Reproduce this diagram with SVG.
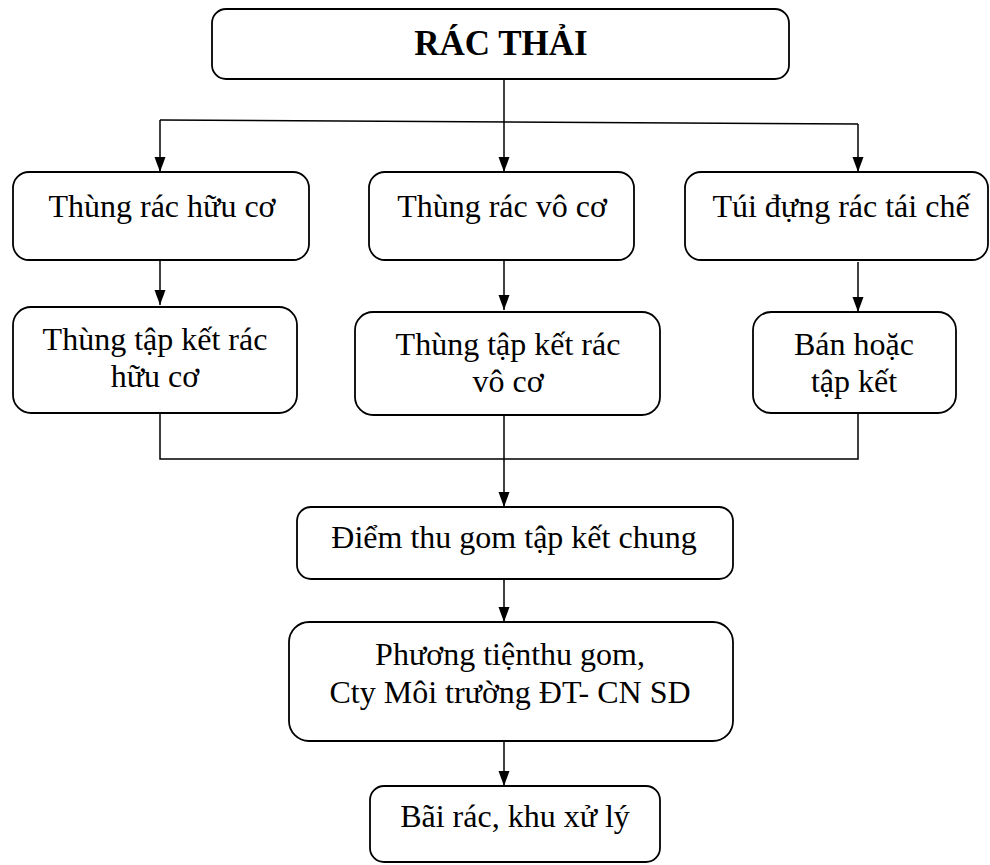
<svg xmlns="http://www.w3.org/2000/svg" width="990" height="865" viewBox="0 0 990 865">
<style>
.box{fill:#fff;stroke:#000;stroke-width:1.8}
.ln{fill:none;stroke:#000;stroke-width:1.5}
.t{font-family:"Liberation Serif","Times New Roman",serif;font-size:32px;fill:#000;text-anchor:middle}
.b{font-weight:bold;font-size:35px}
</style>
<defs>
<marker id="ah" markerUnits="userSpaceOnUse" markerWidth="12" markerHeight="16" refX="6" refY="15" orient="0" viewBox="0 0 12 16">
<path d="M0.5,0 L11.5,0 L6,15 Z" fill="#000"/>
</marker>
</defs>
<rect width="990" height="865" fill="#fff"/>
<g id="connectors">
<line class="ln" x1="504" y1="80" x2="504" y2="121"/>
<line class="ln" x1="160" y1="120" x2="858" y2="124"/>
<line class="ln" x1="160" y1="120" x2="160" y2="172" marker-end="url(#ah)"/>
<line class="ln" x1="504" y1="121" x2="504" y2="172" marker-end="url(#ah)"/>
<line class="ln" x1="858" y1="124" x2="858" y2="172" marker-end="url(#ah)"/>
<line class="ln" x1="160" y1="260" x2="160" y2="305" marker-end="url(#ah)"/>
<line class="ln" x1="504" y1="260" x2="504" y2="310" marker-end="url(#ah)"/>
<line class="ln" x1="858" y1="262" x2="858" y2="312" marker-end="url(#ah)"/>
<polyline class="ln" points="160,413 160,459 858,459 858,413"/>
<line class="ln" x1="504" y1="415" x2="504" y2="507" marker-end="url(#ah)"/>
<line class="ln" x1="504" y1="579" x2="504" y2="622" marker-end="url(#ah)"/>
<line class="ln" x1="504" y1="741" x2="504" y2="786" marker-end="url(#ah)"/>
</g>
<g id="n-rac-thai">
<rect class="box" x="212" y="9" width="577" height="70" rx="14"/>
<text class="t b" x="501" y="55">RÁC THẢI</text>
</g>
<g id="n-huu-co">
<rect class="box" x="13" y="172" width="296" height="88" rx="16"/>
<text class="t" x="162" y="217">Thùng rác hữu cơ</text>
</g>
<g id="n-vo-co">
<rect class="box" x="369" y="172" width="265" height="88" rx="16"/>
<text class="t" x="502" y="217">Thùng rác vô cơ</text>
</g>
<g id="n-tai-che">
<rect class="box" x="685" y="172" width="303" height="88" rx="16"/>
<text class="t" x="841" y="217">Túi đựng rác tái chế</text>
</g>
<g id="n-tk-huu-co">
<rect class="box" x="13" y="307" width="284" height="106" rx="18"/>
<text class="t" x="155" y="350">Thùng tập kết rác</text>
<text class="t" x="155" y="387">hữu cơ</text>
</g>
<g id="n-tk-vo-co">
<rect class="box" x="355" y="312" width="305" height="103" rx="18"/>
<text class="t" x="508" y="355">Thùng tập kết rác</text>
<text class="t" x="508" y="392">vô cơ</text>
</g>
<g id="n-ban">
<rect class="box" x="753" y="312" width="203" height="101" rx="18"/>
<text class="t" x="854" y="355">Bán hoặc</text>
<text class="t" x="854" y="392">tập kết</text>
</g>
<g id="n-diem">
<rect class="box" x="297" y="507" width="436" height="72" rx="14"/>
<text class="t" x="514" y="548">Điểm thu gom tập kết chung</text>
</g>
<g id="n-phuong-tien">
<rect class="box" x="289" y="622" width="444" height="119" rx="20"/>
<text class="t" x="510" y="665">Phương tiệnthu gom,</text>
<text class="t" x="510" y="703">Cty Môi trường ĐT- CN SD</text>
</g>
<g id="n-bai-rac">
<rect class="box" x="370" y="786" width="290" height="76" rx="14"/>
<text class="t" x="515" y="827">Bãi rác, khu xử lý</text>
</g>
</svg>
